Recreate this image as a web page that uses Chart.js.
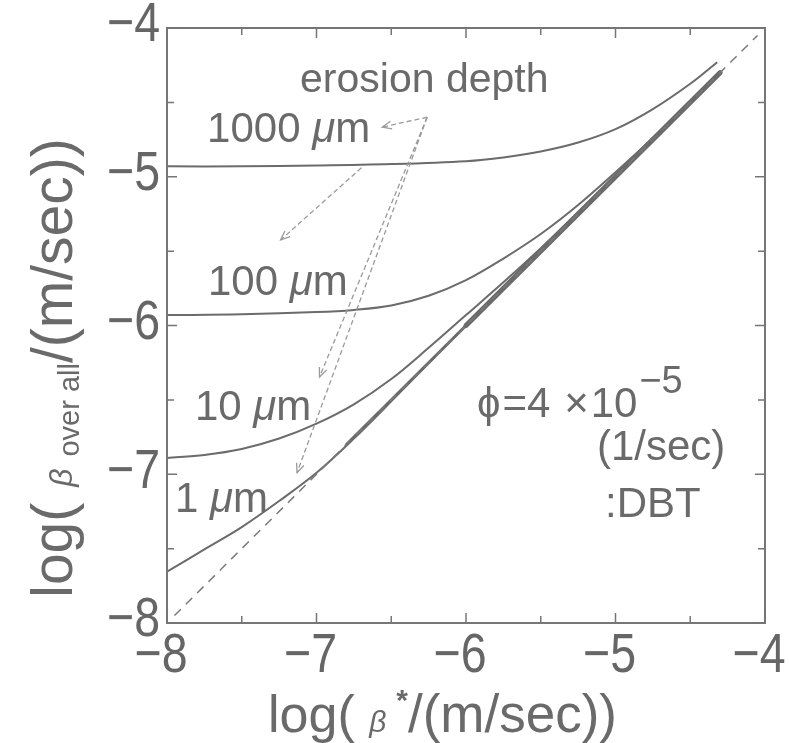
<!DOCTYPE html>
<html><head><meta charset="utf-8">
<script src="https://cdn.jsdelivr.net/npm/chart.js@4/dist/chart.umd.min.js"></script>
<style>html,body{margin:0;padding:0;background:#fff;}canvas{display:block;}</style>
</head><body>
<canvas id="c" width="789" height="743"></canvas>
<script>
// ---- tick values / labels ----
const xTickValues = [-8, -7, -6, -5, -4];
const xTickLabels = ['−8', '−7', '−6', '−5', '−4'];
const yTickValues = [-8, -7, -6, -5, -4];
const yTickLabels = ['−8', '−7', '−6', '−5', '−4'];
const minorTickValues = [-7.5, -6.5, -5.5, -4.5];

// ---- series: log(beta overall) vs log(beta*) for each erosion depth ----
const curve1000X = [-8, -7.5, -7, -6.5, -6, -5.75, -5.5, -5.25, -5, -4.75, -4.5, -4.32];
const curve1000Y = [-4.93, -4.93, -4.925, -4.915, -4.895, -4.87, -4.83, -4.77, -4.68, -4.545, -4.375, -4.23];

const curve100X = [-8, -7.5, -7, -6.75, -6.5, -6.25, -6, -5.75, -5.5, -5.25, -5, -4.75, -4.5, -4.3];
const curve100Y = [-5.93, -5.925, -5.91, -5.895, -5.865, -5.80, -5.695, -5.55, -5.385, -5.19, -4.97, -4.74, -4.495, -4.30];

const curve10X = [-8, -7.75, -7.5, -7.25, -7, -6.75, -6.5, -6.25, -6, -5.75, -5.5, -5.25, -5, -4.75, -4.5, -4.3];
const curve10Y = [-6.89, -6.87, -6.83, -6.76, -6.66, -6.53, -6.36, -6.15, -5.93, -5.71, -5.48, -5.24, -5.0, -4.75, -4.5, -4.3];

const curve1X = [-8, -7.75, -7.5, -7.25, -7, -6.75, -6.5, -6, -5.5, -5, -4.5, -4.3];
const curve1Y = [-7.655, -7.505, -7.355, -7.18, -6.99, -6.76, -6.51, -6, -5.5, -5, -4.5, -4.3];

const limitX = [-6.8, -6.0, -4.3];
const limitY = [-6.8, -6.0, -4.3];

const diagX = [-7.95, -4.05];
const diagY = [-7.95, -4.05];

// ---- annotation arrows (data units): start -> tip ----
const arrowStartX = [-6.26, -6.70, -6.26, -6.26];
const arrowStartY = [-4.60, -4.94, -4.60, -4.60];
const arrowTipX = [-6.56, -7.24, -6.98, -7.13];
const arrowTipY = [-4.666, -5.425, -6.346, -6.99];

const pts = (xs, ys) => xs.map((x, i) => ({x: x, y: ys[i]}));
const LC = '#6b6b6b';
const TC = '#6a6a6a';
const FONT = '"Liberation Sans", Arial, sans-serif';

function runsWidth(ctx, runs) {
  let w = 0;
  runs.forEach(r => { ctx.font = r.font; w += ctx.measureText(r.t).width + (r.dx || 0); });
  return w;
}
function drawRuns(ctx, runs, x, y) {
  let cx = x;
  runs.forEach(r => {
    ctx.font = r.font;
    ctx.fillText(r.t, cx, y + (r.dy || 0));
    cx += ctx.measureText(r.t).width + (r.dx || 0);
  });
}

const labelFont = '42px ' + FONT;
const muFont = 'italic 42px ' + FONT;
const annotations = [
  {x: -7.732, y: -4.766, runs: [{t: '1000 ', font: labelFont}, {t: 'μ', font: muFont}, {t: 'm', font: labelFont}]},
  {x: -7.726, y: -5.795, runs: [{t: '100 ', font: labelFont}, {t: 'μ', font: muFont}, {t: 'm', font: labelFont}]},
  {x: -7.813, y: -6.635, runs: [{t: '10 ', font: labelFont}, {t: 'μ', font: muFont}, {t: 'm', font: labelFont}]},
  {x: -7.946, y: -7.254, runs: [{t: '1 ', font: labelFont}, {t: 'μ', font: muFont}, {t: 'm', font: labelFont}]},
  {x: -7.110, y: -4.430, runs: [{t: 'erosion depth', font: '41px ' + FONT}]},
  {x: -5.926, y: -6.615, runs: [{t: 'ϕ', font: labelFont, dx: 2}, {t: '=4 ', font: labelFont, dx: 2}, {t: '×', font: labelFont, dx: 2}, {t: '10', font: labelFont, dx: 2}, {t: '−5', font: '38px ' + FONT, dy: -24}]},
  {x: -5.124, y: -6.904, runs: [{t: '(1/sec)', font: labelFont}]},
  {x: -5.070, y: -7.287, runs: [{t: ':DBT', font: labelFont}]}
];

const decor = {
  id: 'decor',
  afterDatasetsDraw(chart) {
    const ctx = chart.ctx;
    const xs = chart.scales.x, ys = chart.scales.y;
    const a = chart.chartArea;
    ctx.save();
    // frame
    ctx.strokeStyle = '#767676';
    ctx.lineWidth = 2;
    ctx.strokeRect(a.left, a.top, a.right - a.left, a.bottom - a.top);
    // inward ticks
    ctx.lineWidth = 1.5;
    const tick = (v, len, isX) => {
      ctx.beginPath();
      if (isX) {
        const p = xs.getPixelForValue(v);
        ctx.moveTo(p, a.bottom); ctx.lineTo(p, a.bottom - len);
        ctx.moveTo(p, a.top); ctx.lineTo(p, a.top + len);
      } else {
        const p = ys.getPixelForValue(v);
        ctx.moveTo(a.left, p); ctx.lineTo(a.left + len, p);
        ctx.moveTo(a.right, p); ctx.lineTo(a.right - len, p);
      }
      ctx.stroke();
    };
    xTickValues.forEach(v => tick(v, 10, true));
    yTickValues.forEach(v => tick(v, 10, false));
    minorTickValues.forEach(v => { tick(v, 7, true); tick(v, 7, false); });

    // tick labels (condensed)
    ctx.fillStyle = '#666';
    ctx.font = '56px ' + FONT;
    const sx = 0.83;
    ctx.textBaseline = 'middle';
    xTickValues.forEach((v, i) => {
      const p = xs.getPixelForValue(v);
      ctx.save(); ctx.translate(p - 6, a.bottom + 34); ctx.scale(sx, 1);
      ctx.textAlign = 'center'; ctx.fillText(xTickLabels[i], 0, 0); ctx.restore();
    });
    yTickValues.forEach((v, i) => {
      const p = ys.getPixelForValue(v);
      ctx.save(); ctx.translate(a.left - 7, p - 2); ctx.scale(sx, 1);
      ctx.textAlign = 'right'; ctx.fillText(yTickLabels[i], 0, 0); ctx.restore();
    });

    // arrows
    ctx.strokeStyle = '#9a9a9a';
    ctx.lineWidth = 1.3;
    arrowStartX.forEach((sx0, i) => {
      const x1 = xs.getPixelForValue(sx0), y1 = ys.getPixelForValue(arrowStartY[i]);
      const x2 = xs.getPixelForValue(arrowTipX[i]), y2 = ys.getPixelForValue(arrowTipY[i]);
      ctx.setLineDash([5, 3]);
      ctx.beginPath(); ctx.moveTo(x1, y1); ctx.lineTo(x2, y2); ctx.stroke();
      ctx.setLineDash([]);
      const ang = Math.atan2(y2 - y1, x2 - x1);
      const L = 10, s = 0.4;
      ctx.beginPath();
      ctx.moveTo(x2 - L * Math.cos(ang - s), y2 - L * Math.sin(ang - s));
      ctx.lineTo(x2, y2);
      ctx.lineTo(x2 - L * Math.cos(ang + s), y2 - L * Math.sin(ang + s));
      ctx.stroke();
    });

    // text annotations
    ctx.fillStyle = TC;
    ctx.textBaseline = 'alphabetic';
    ctx.textAlign = 'left';
    annotations.forEach(an => {
      drawRuns(ctx, an.runs, xs.getPixelForValue(an.x), ys.getPixelForValue(an.y));
    });

    // x-axis title
    const xt = [
      {t: 'log( ', font: '52px ' + FONT},
      {t: 'β', font: 'italic 30px ' + FONT, dx: 10},
      {t: '*', font: 'bold 30px ' + FONT, dy: -22, dx: 0},
      {t: '/(m/sec))', font: '53px ' + FONT}
    ];
    drawRuns(ctx, xt, 268, 732);

    // y-axis title (rotated)
    const yt = [
      {t: 'log( ', font: '57px ' + FONT},
      {t: 'β', font: 'italic 32px ' + FONT, dx: 4},
      {t: ' over all', font: '29px ' + FONT, dy: 7},
      {t: '/(m/sec))', font: '57px ' + FONT}
    ];
    const yw = runsWidth(ctx, yt);
    ctx.translate(72, 368);
    ctx.rotate(-Math.PI / 2);
    drawRuns(ctx, yt, -yw / 2, 0);
    ctx.restore();
  }
};

const ds = (label, xs, ys, extra) => Object.assign({
  label: label, data: pts(xs, ys), borderColor: LC, borderWidth: 2, pointRadius: 0,
  fill: false, tension: 0.35
}, extra || {});

new Chart(document.getElementById('c'), {
  type: 'line',
  data: {
    datasets: [
      ds('β overall = β*', diagX, diagY, {borderColor: '#7a7a7a', borderWidth: 1.5, borderDash: [9, 7], tension: 0}),
      ds('1000 μm', curve1000X, curve1000Y),
      ds('100 μm', curve100X, curve100Y),
      ds('10 μm', curve10X, curve10Y),
      ds('1 μm', curve1X, curve1Y),
      ds('limit', limitX, limitY, {borderColor: '#6a6a6a', tension: 0, borderCapStyle: 'round',
        segment: {borderWidth: c => c.p0DataIndex === 0 ? 3 : 5}})
    ]
  },
  options: {
    responsive: false,
    animation: false,
    layout: {padding: {left: 0, top: 28, right: 24, bottom: 0}},
    plugins: {legend: {display: false}, tooltip: {enabled: false}},
    scales: {
      x: {
        type: 'linear', min: -8, max: -4,
        border: {display: false},
        grid: {display: false, drawTicks: false},
        afterBuildTicks: s => { s.ticks = xTickValues.map(v => ({value: v})); },
        ticks: {display: false},
        afterFit: s => { s.height = 120; s.paddingLeft = 0; s.paddingRight = 0; }
      },
      y: {
        type: 'linear', min: -8, max: -4,
        border: {display: false},
        grid: {display: false, drawTicks: false},
        afterBuildTicks: s => { s.ticks = yTickValues.map(v => ({value: v})); },
        ticks: {display: false},
        afterFit: s => { s.width = 167; s.paddingTop = 0; s.paddingBottom = 0; }
      }
    }
  },
  plugins: [decor]
});
</script>
</body></html>
